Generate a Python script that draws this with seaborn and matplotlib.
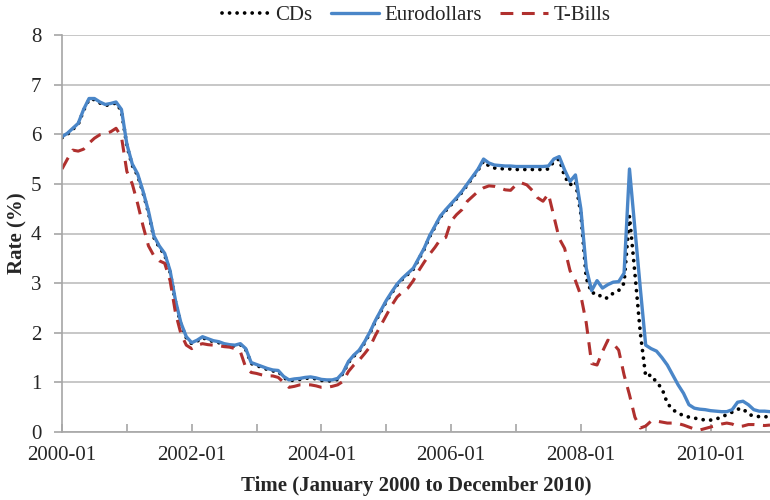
import pandas as pd
import seaborn as sns
import matplotlib.pyplot as plt
import matplotlib.ticker as ticker

# monthly rates, January 2000 .. December 2010
eurodollars = [
    5.95, 6.02, 6.12, 6.22, 6.50, 6.72, 6.72, 6.65, 6.60, 6.62, 6.65, 6.50,
    5.80, 5.40, 5.20, 4.85, 4.45, 3.95, 3.75, 3.60, 3.25, 2.65, 2.20, 1.92,
    1.80, 1.85, 1.92, 1.88, 1.84, 1.82, 1.78, 1.76, 1.75, 1.78, 1.68, 1.40,
    1.36, 1.32, 1.28, 1.25, 1.24, 1.12, 1.05, 1.07, 1.08, 1.10, 1.11, 1.09,
    1.06, 1.05, 1.05, 1.08, 1.20, 1.42, 1.55, 1.65, 1.82, 2.02, 2.25, 2.45,
    2.65, 2.82, 2.98, 3.10, 3.20, 3.30, 3.50, 3.70, 3.95, 4.15, 4.35, 4.48,
    4.60, 4.72, 4.85, 5.00, 5.15, 5.30, 5.50, 5.42, 5.38, 5.37, 5.36, 5.36,
    5.35, 5.35, 5.35, 5.35, 5.35, 5.35, 5.36, 5.50, 5.55, 5.28, 5.05, 5.18,
    4.50, 3.30, 2.85, 3.05, 2.90, 2.97, 3.02, 3.03, 3.20, 5.30, 4.10, 2.90,
    1.75, 1.68, 1.63, 1.50, 1.35, 1.15, 0.95, 0.78, 0.55, 0.48, 0.46, 0.45,
    0.43, 0.42, 0.41, 0.41, 0.45, 0.60, 0.62, 0.55, 0.45, 0.42, 0.42, 0.41,
]
cds = [
    5.93, 6.00, 6.10, 6.20, 6.48, 6.70, 6.70, 6.63, 6.58, 6.60, 6.63, 6.47,
    5.77, 5.37, 5.17, 4.82, 4.42, 3.92, 3.72, 3.57, 3.22, 2.62, 2.17, 1.90,
    1.78, 1.83, 1.90, 1.86, 1.82, 1.80, 1.76, 1.74, 1.73, 1.76, 1.66, 1.38,
    1.34, 1.30, 1.26, 1.23, 1.22, 1.10, 1.03, 1.05, 1.06, 1.08, 1.09, 1.07,
    1.04, 1.03, 1.03, 1.06, 1.18, 1.40, 1.53, 1.63, 1.80, 2.00, 2.23, 2.43,
    2.63, 2.80, 2.96, 3.08, 3.18, 3.28, 3.48, 3.68, 3.93, 4.13, 4.33, 4.46,
    4.58, 4.70, 4.83, 4.98, 5.13, 5.28, 5.46, 5.36, 5.32, 5.31, 5.30, 5.30,
    5.29, 5.29, 5.29, 5.29, 5.29, 5.29, 5.30, 5.45, 5.50, 5.15, 4.98, 5.05,
    4.40, 3.10, 2.80, 2.80, 2.70, 2.70, 2.80, 2.85, 3.00, 4.35, 3.20, 2.00,
    1.12, 1.15, 1.00, 0.88, 0.58, 0.45, 0.38, 0.33, 0.30, 0.28, 0.26, 0.24,
    0.24, 0.26, 0.30, 0.35, 0.40, 0.46, 0.47, 0.36, 0.32, 0.31, 0.31, 0.30,
]
tbills = [
    5.30, 5.50, 5.68, 5.66, 5.70, 5.82, 5.92, 5.99, 6.01, 6.05, 6.12, 5.95,
    5.25, 5.00, 4.60, 4.15, 3.75, 3.55, 3.45, 3.40, 3.05, 2.40, 1.98, 1.75,
    1.68, 1.75, 1.78, 1.76, 1.75, 1.74, 1.72, 1.71, 1.68, 1.62, 1.30, 1.20,
    1.18, 1.15, 1.13, 1.13, 1.10, 1.00, 0.90, 0.92, 0.95, 0.95, 0.95, 0.93,
    0.90, 0.90, 0.92, 0.95, 1.02, 1.22, 1.35, 1.45, 1.58, 1.72, 1.95, 2.15,
    2.35, 2.55, 2.72, 2.82, 2.90, 3.05, 3.25, 3.42, 3.58, 3.72, 3.88, 3.92,
    4.25, 4.38, 4.48, 4.65, 4.75, 4.85, 4.92, 4.96, 4.95, 4.92, 4.88, 4.87,
    4.98, 5.02, 4.98, 4.87, 4.72, 4.65, 4.80, 4.35, 3.90, 3.70, 3.25, 3.05,
    2.75, 2.20, 1.38, 1.35, 1.62, 1.85, 1.78, 1.65, 1.15, 0.75, 0.30, 0.08,
    0.12, 0.22, 0.22, 0.20, 0.18, 0.18, 0.17, 0.14, 0.10, 0.06, 0.04, 0.07,
    0.10, 0.13, 0.16, 0.18, 0.16, 0.11, 0.12, 0.15, 0.15, 0.14, 0.13, 0.14,
]
months = pd.date_range('2000-01-01', periods=len(eurodollars), freq='MS').strftime('%Y-%m')

df = pd.DataFrame({'pos': range(len(months)), 'month': months,
                   'CDs': cds, 'Eurodollars': eurodollars, 'T-Bills': tbills})

sns.set_style('white')
plt.rcParams['font.family'] = ['Liberation Serif', 'DejaVu Serif']

fig = plt.figure(figsize=(7.7, 5), dpi=100)
ax = fig.add_axes([62 / 770, 68 / 500, 708 / 770, 397 / 500])

g = sns.lineplot(data=df, x='pos', y='CDs', color='black', linewidth=2.7,
                 label='CDs', ax=ax)
g = sns.lineplot(data=df, x='pos', y='Eurodollars', color='#4A86C8', linewidth=2.4,
                 label='Eurodollars', ax=ax)
g = sns.lineplot(data=df, x='pos', y='T-Bills', color='#B0302E', linewidth=2.2,
                 label='T-Bills', ax=ax)

lines = ax.get_lines()
lines[0].set_linestyle((0, (0.01, 2.0)))
lines[0].set_dash_capstyle('round')
lines[2].set_linestyle((0, (4.2, 2.8)))

ax.set_xlim(0, len(months) - 1)
ax.set_ylim(0, 8)
ax.yaxis.set_major_locator(ticker.MultipleLocator(1))
ax.xaxis.set_major_locator(ticker.MultipleLocator(24))
ax.xaxis.set_minor_locator(ticker.MultipleLocator(12))
ax.xaxis.set_major_formatter(ticker.FuncFormatter(
    lambda v, p: months[int(v)] if 0 <= int(v) < len(months) else ''))

ax.grid(True, axis='y', color='#BEBEBE', linewidth=1.2)
for side in ['top', 'right']:
    ax.spines[side].set_visible(False)
for side in ['left', 'bottom']:
    ax.spines[side].set_color('#A6A6A6')
    ax.spines[side].set_linewidth(1.2)

ax.tick_params(axis='y', which='major', left=True, length=6, width=1.2,
               color='#A6A6A6', labelsize=15, pad=9)
ax.tick_params(axis='x', which='both', bottom=True, direction='in', length=6,
               width=1.2, color='#A6A6A6', labelsize=15, pad=10)

ax.set_ylabel('Rate (%)', fontsize=15, fontweight='bold', labelpad=2)
ax.set_xlabel('Time (January 2000 to December 2010)', fontsize=15,
              fontweight='bold', labelpad=8)

ax.legend(loc='center', bbox_to_anchor=(0.5, 1.05), ncol=3, frameon=False,
          fontsize=15, handlelength=2.3, handletextpad=0.25, columnspacing=0.9,
          borderaxespad=0)

plt.savefig('out.png', dpi=100)
